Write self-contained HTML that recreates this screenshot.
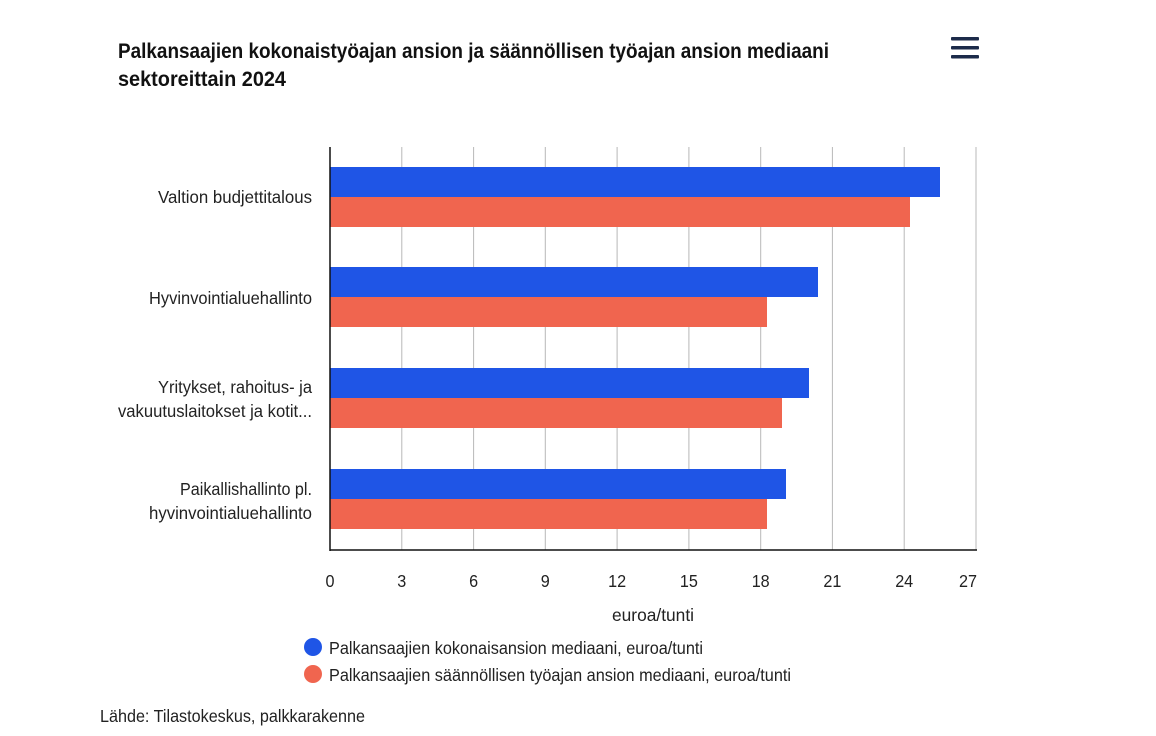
<!DOCTYPE html>
<html><head><meta charset="utf-8"><style>
html,body{margin:0;padding:0;background:#fff;}
svg{display:block;font-family:"Liberation Sans",sans-serif;}
</style></head><body>
<svg width="1156" height="736" viewBox="0 0 1156 736">
<rect width="1156" height="736" fill="#fff"/>
<text x="118" y="58" font-size="21" font-weight="bold" fill="#111" textLength="711" lengthAdjust="spacingAndGlyphs">Palkansaajien kokonaistyöajan ansion ja säännöllisen työajan ansion mediaani</text>
<text x="118" y="86" font-size="21" font-weight="bold" fill="#111" textLength="168" lengthAdjust="spacingAndGlyphs">sektoreittain 2024</text>
<g fill="#1c2b4a"><rect x="951" y="37" width="28" height="3.5" rx="1"/><rect x="951" y="46" width="28" height="3.5" rx="1"/><rect x="951" y="55" width="28" height="3.5" rx="1"/></g>
<g stroke="#b8b8b8" stroke-width="1">
<line x1="401.8" y1="147" x2="401.8" y2="550"/><line x1="473.6" y1="147" x2="473.6" y2="550"/><line x1="545.3" y1="147" x2="545.3" y2="550"/><line x1="617.1" y1="147" x2="617.1" y2="550"/><line x1="688.9" y1="147" x2="688.9" y2="550"/><line x1="760.7" y1="147" x2="760.7" y2="550"/><line x1="832.4" y1="147" x2="832.4" y2="550"/><line x1="904.2" y1="147" x2="904.2" y2="550"/><line x1="976" y1="147" x2="976" y2="550"/>
</g>
<g fill="#1f55e6"><rect x="330" y="167" width="610" height="30"/><rect x="330" y="267" width="488" height="30"/><rect x="330" y="368" width="479" height="30"/><rect x="330" y="469" width="456" height="30"/></g>
<g fill="#f0654f"><rect x="330" y="197" width="580" height="30"/><rect x="330" y="297" width="437" height="30"/><rect x="330" y="398" width="452" height="30"/><rect x="330" y="499" width="437" height="30"/></g>
<line x1="330" y1="147" x2="330" y2="551" stroke="#111" stroke-width="1.5"/>
<line x1="330" y1="550" x2="977" y2="550" stroke="#111" stroke-width="1.5"/>
<g font-size="17.5" fill="#222" text-anchor="end">
<text x="312" y="203" textLength="154" lengthAdjust="spacingAndGlyphs">Valtion budjettitalous</text>
<text x="312" y="304" textLength="163" lengthAdjust="spacingAndGlyphs">Hyvinvointialuehallinto</text>
<text x="312" y="393" textLength="154" lengthAdjust="spacingAndGlyphs">Yritykset, rahoitus- ja</text>
<text x="312" y="417" textLength="194" lengthAdjust="spacingAndGlyphs">vakuutuslaitokset ja kotit...</text>
<text x="312" y="495" textLength="132" lengthAdjust="spacingAndGlyphs">Paikallishallinto pl.</text>
<text x="312" y="519" textLength="163" lengthAdjust="spacingAndGlyphs">hyvinvointialuehallinto</text>
</g>
<g font-size="17.5" fill="#222" text-anchor="middle">
<text x="330" y="587" textLength="9" lengthAdjust="spacingAndGlyphs">0</text><text x="401.8" y="587" textLength="9" lengthAdjust="spacingAndGlyphs">3</text><text x="473.6" y="587" textLength="9" lengthAdjust="spacingAndGlyphs">6</text><text x="545.3" y="587" textLength="9" lengthAdjust="spacingAndGlyphs">9</text><text x="617.1" y="587" textLength="18" lengthAdjust="spacingAndGlyphs">12</text><text x="688.9" y="587" textLength="18" lengthAdjust="spacingAndGlyphs">15</text><text x="760.7" y="587" textLength="18" lengthAdjust="spacingAndGlyphs">18</text><text x="832.4" y="587" textLength="18" lengthAdjust="spacingAndGlyphs">21</text><text x="904.2" y="587" textLength="18" lengthAdjust="spacingAndGlyphs">24</text><text x="968" y="587" textLength="18" lengthAdjust="spacingAndGlyphs">27</text>
<text x="653" y="621" textLength="82" lengthAdjust="spacingAndGlyphs">euroa/tunti</text>
</g>
<circle cx="313" cy="647" r="9" fill="#1f55e6"/>
<circle cx="313" cy="674" r="9" fill="#f0654f"/>
<g font-size="17.5" fill="#222">
<text x="329" y="654" textLength="374" lengthAdjust="spacingAndGlyphs">Palkansaajien kokonaisansion mediaani, euroa/tunti</text>
<text x="329" y="681" textLength="462" lengthAdjust="spacingAndGlyphs">Palkansaajien säännöllisen työajan ansion mediaani, euroa/tunti</text>
<text x="100" y="722" textLength="265" lengthAdjust="spacingAndGlyphs">Lähde: Tilastokeskus, palkkarakenne</text>
</g>
</svg>
</body></html>
